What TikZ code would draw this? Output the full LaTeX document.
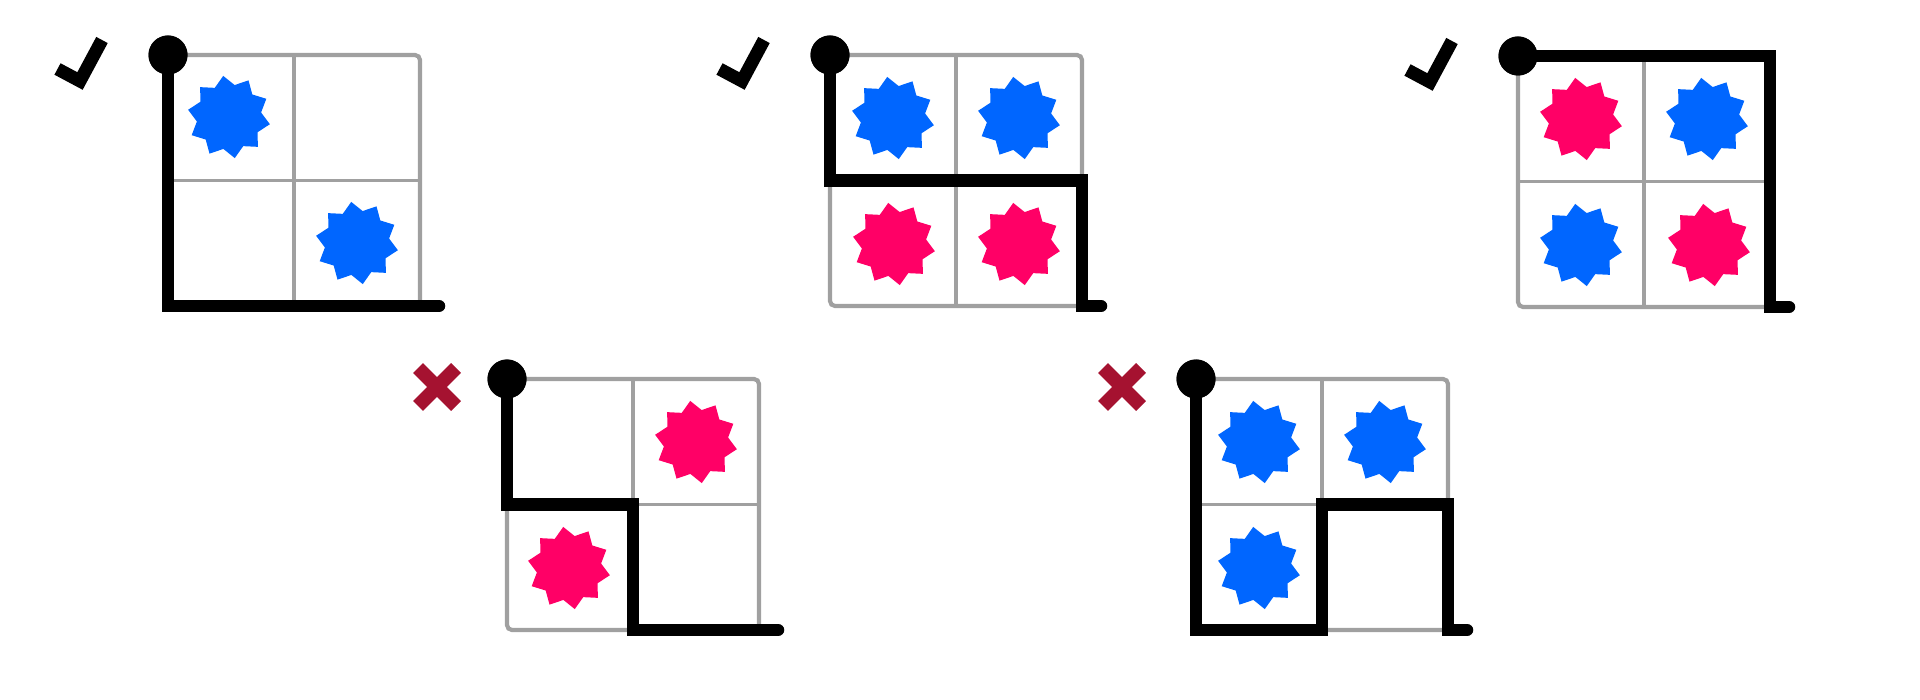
\documentclass[tikz,border=0pt]{standalone}
\usetikzlibrary{shapes.geometric}
\definecolor{sblue}{HTML}{0066FF}
\definecolor{spink}{HTML}{FF0066}
\definecolor{xred}{HTML}{A51230}
\definecolor{gridgray}{HTML}{A0A0A0}
\tikzset{
 gridframe/.style={draw=gridgray,line width=4.2pt,rounded corners=5pt},
 gridinner/.style={draw=gridgray,line width=3.3pt},
 route/.style={draw=black,line width=12.5pt,line join=miter,line cap=round},
 startdot/.style={circle,fill=black,minimum size=39pt,inner sep=0pt},
 starbase/.style={star,star points=10,star point ratio=1.28,minimum size=83pt,inner sep=0pt,shape border rotate=8,draw=none},
 bstar/.style={starbase,fill=sblue},
 pstar/.style={starbase,fill=spink},
 okmark/.style={draw=black,line width=13pt,line join=miter,line cap=butt},
 nomark/.style={draw=xred,line width=14pt,line cap=butt},
}
\newcommand{\panelgrid}{%
  \foreach \i in {0,1,2} {\foreach \j in {0,1,2} {\coordinate (c\i\j) at (\i*126,\j*125.5);}}
  \coordinate (end) at (271,251);
  \draw[gridframe] (c00) rectangle (c22);
  \draw[gridinner] (c10) -- (c12) (c01) -- (c21);
}
\newcommand{\okcheck}{%
  \coordinate (k1) at (-110.5,14);
  \coordinate (k2) at (-88,26);
  \coordinate (k3) at (-66,-15);
  \draw[okmark] (k1) -- (k2) -- (k3);
}
\newcommand{\nocross}[1]{%
  \coordinate (x1) at (#1-19,-11);
  \coordinate (x2) at (#1+19,27);
  \coordinate (x3) at (#1-19,27);
  \coordinate (x4) at (#1+19,-11);
  \draw[nomark] (x1) -- (x2) (x3) -- (x4);
}
\begin{document}
\begin{tikzpicture}[x=1pt,y=-1pt]
\useasboundingbox (0,0) rectangle (1920,700);

% Panel 1
\begin{scope}[shift={(168,55)},name prefix=p1-]
  \panelgrid
  \node[bstar] (s00) at (61,62) {};
  \node[bstar] (s11) at (189,188) {};
  \node[startdot] (dot) at (c00) {};
  \draw[route] (dot.center) -- (c02) -- (c22) -- (end);
  \node[startdot] at (dot.center) {};
  \okcheck
\end{scope}

% Panel 2
\begin{scope}[shift={(830,55)},name prefix=p2-]
  \panelgrid
  \node[bstar] (s00) at (63,63) {};
  \node[bstar] (s10) at (189,63) {};
  \node[pstar] (s01) at (64,189) {};
  \node[pstar] (s11) at (189,189) {};
  \node[startdot] (dot) at (c00) {};
  \draw[route] (dot.center) -- (c01) -- (c21) -- (c22) -- (end);
  \node[startdot] at (dot.center) {};
  \okcheck
\end{scope}

% Panel 3
\begin{scope}[shift={(1518,56)},name prefix=p3-]
  \panelgrid
  \node[pstar] (s00) at (63,63) {};
  \node[bstar] (s10) at (189,63) {};
  \node[bstar] (s01) at (63,189) {};
  \node[pstar] (s11) at (191,189) {};
  \node[startdot] (dot) at (c00) {};
  \draw[route] (dot.center) -- (c20) -- (c22) -- (end);
  \node[startdot] at (dot.center) {};
  \okcheck
\end{scope}

% Panel 4
\begin{scope}[shift={(507,379)},name prefix=p4-]
  \panelgrid
  \node[pstar] (s10) at (189,63) {};
  \node[pstar] (s01) at (62,189) {};
  \node[startdot] (dot) at (c00) {};
  \draw[route] (dot.center) -- (c01) -- (c11) -- (c12) -- (c22) -- (end);
  \node[startdot] at (dot.center) {};
  \nocross{-70}
\end{scope}

% Panel 5
\begin{scope}[shift={(1196,379)},name prefix=p5-]
  \panelgrid
  \node[bstar] (s00) at (63,63) {};
  \node[bstar] (s10) at (189,63) {};
  \node[bstar] (s01) at (63,189) {};
  \node[startdot] (dot) at (c00) {};
  \draw[route] (dot.center) -- (c02) -- (c12) -- (c11) -- (c21) -- (c22) -- (end);
  \node[startdot] at (dot.center) {};
  \nocross{-74}
\end{scope}
\end{tikzpicture}
\end{document}
